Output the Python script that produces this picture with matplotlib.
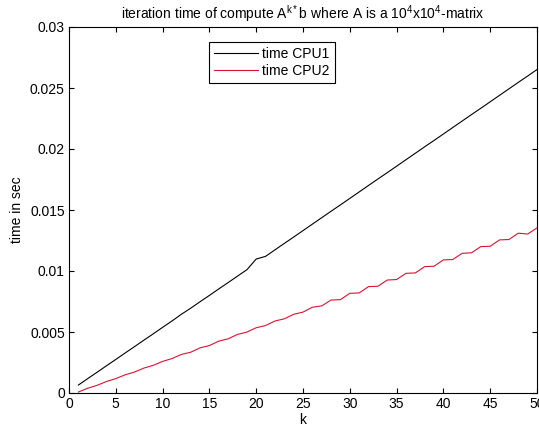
import matplotlib
matplotlib.use("Agg")
import matplotlib.pyplot as plt

plt.rcParams['font.family'] = ['Liberation Sans', 'DejaVu Sans']
plt.rcParams['mathtext.default'] = 'regular'

k = list(range(1, 51))
cpu1 = [0.00065, 0.00118, 0.00170, 0.00223, 0.00275, 0.00328, 0.00380, 0.00433,
        0.00485, 0.00538, 0.00590, 0.00645, 0.00695, 0.00748, 0.00800, 0.00853,
        0.00905, 0.00958, 0.01010, 0.01098, 0.01120, 0.01173, 0.01226, 0.01278,
        0.01331, 0.01384, 0.01437, 0.01490, 0.01542, 0.01595, 0.01648, 0.01701,
        0.01754, 0.01806, 0.01859, 0.01912, 0.01965, 0.02018, 0.02070, 0.02123,
        0.02176, 0.02229, 0.02282, 0.02334, 0.02387, 0.02440, 0.02493, 0.02546,
        0.02598, 0.02651]
cpu2 = [0.00008, 0.00039, 0.00063, 0.00094, 0.00118, 0.00149, 0.00172, 0.00204,
        0.00227, 0.00259, 0.00282, 0.00316, 0.00334, 0.00370, 0.00389, 0.00425,
        0.00444, 0.00480, 0.00499, 0.00535, 0.00553, 0.00590, 0.00608, 0.00645,
        0.00663, 0.00703, 0.00714, 0.00762, 0.00765, 0.00817, 0.00820, 0.00872,
        0.00875, 0.00926, 0.00930, 0.00981, 0.00984, 0.01036, 0.01039, 0.01091,
        0.01094, 0.01145, 0.01149, 0.01200, 0.01203, 0.01255, 0.01258, 0.01310,
        0.01303, 0.01353]
labels = ['time CPU1', 'time CPU2']
xticks = [0, 5, 10, 15, 20, 25, 30, 35, 40, 45, 50]
yticks = [0, 0.005, 0.01, 0.015, 0.02, 0.025, 0.03]
yticklabels = ['0', '0.005', '0.01', '0.015', '0.02', '0.025', '0.03']

fig = plt.figure(figsize=(5.39, 4.33), dpi=100)
ax = fig.add_axes([69/539, 40/433, 468/539, 366/433])
ax.plot(k, cpu1, color='black', lw=0.8, label=labels[0])
ax.plot(k, cpu2, color='#dc1232', lw=0.8, label=labels[1])
ax.set_xlim(0, 50)
ax.set_ylim(0, 0.03)
ax.set_xticks(xticks)
ax.set_xticklabels([str(t) for t in xticks])
ax.set_yticks(yticks)
ax.set_yticklabels(yticklabels)
ax.tick_params(direction='in', top=True, right=True, length=3.5, width=0.8,
               labelsize=10, pad=3)
for s in ax.spines.values():
    s.set_linewidth(0.8)
ax.set_xlabel('k', fontsize=10, labelpad=1)
ax.set_ylabel('time in sec', fontsize=10, labelpad=4)
ax.set_title(r'iteration time of compute A$^{k*}$b where A is a 10$^4$x10$^4$-matrix',
             fontsize=10, pad=6)
leg = ax.legend(loc='upper left', bbox_to_anchor=(0.299, 0.958), fontsize=10,
                fancybox=False, framealpha=1, edgecolor='black', handlelength=3.2,
                borderpad=0.35, labelspacing=0.2, handletextpad=0.3,
                borderaxespad=0)
leg.get_frame().set_linewidth(0.8)
fig.savefig('out.png', dpi=100)
